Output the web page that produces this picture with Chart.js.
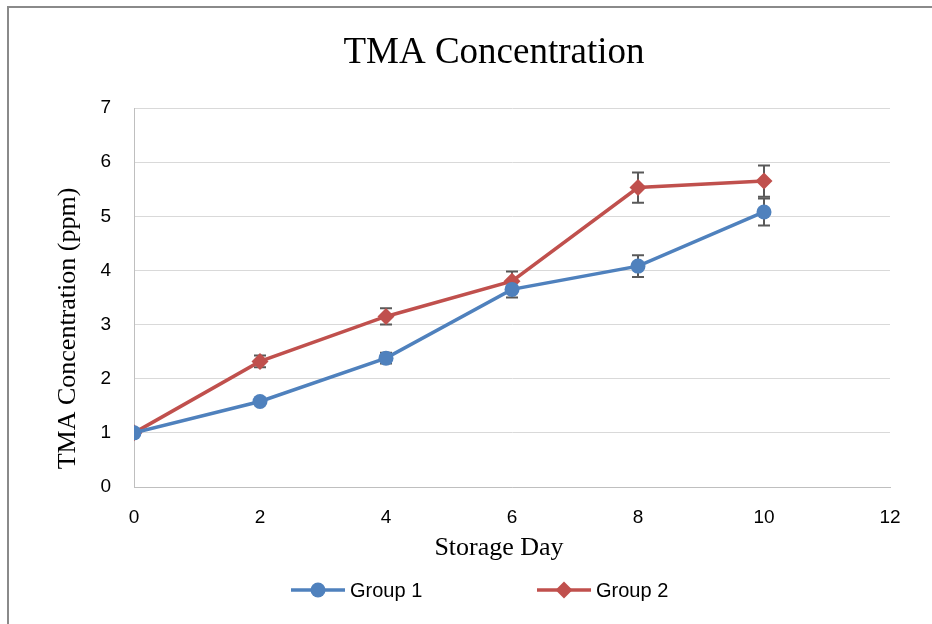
<!DOCTYPE html>
<html>
<head>
<meta charset="utf-8">
<script src="https://cdn.jsdelivr.net/npm/chart.js@4"></script>
<style>
  html, body { margin: 0; padding: 0; background: #fff; overflow: hidden; width: 932px; height: 624px; }
  #frame { position: absolute; left: 7px; top: 6px; width: 974px; height: 640px; border: 2px solid #8a8a8a; background: #fff; }
  #c { display: block; }
</style>
</head>
<body>
<div id="frame"><canvas id="c" width="974" height="640"></canvas></div>
<script>
const days = [0, 2, 4, 6, 8, 10];
const group1 = [1.0, 1.58, 2.38, 3.65, 4.08, 5.08];
const group2 = [1.0, 2.32, 3.15, 3.80, 5.53, 5.65];
const group1Err = [0, 0.04, 0.10, 0.15, 0.20, 0.25];
const group2Err = [0, 0.11, 0.15, 0.18, 0.28, 0.29];
const seriesNames = ['Group 1', 'Group 2'];
const chartTitle = 'TMA Concentration';
const xTitle = 'Storage Day';
const yTitle = 'TMA Concentration (ppm)';
const xTicks = [0, 2, 4, 6, 8, 10, 12];
const yTicks = [0, 1, 2, 3, 4, 5, 6, 7];

const BLUE = '#4F81BD', RED = '#C0504D';
const SANS = '"Liberation Sans", Arial, sans-serif';
const SERIF = '"Liberation Serif", "Times New Roman", serif';

const errorBars = {
  id: 'errorBars',
  beforeDatasetsDraw(chart) {
    const ctx = chart.ctx;
    const xs = chart.scales.x, ys = chart.scales.y;
    const errs = [group1Err, group2Err];
    ctx.save();
    ctx.strokeStyle = '#595959';
    ctx.lineWidth = 2;
    chart.data.datasets.forEach((ds, di) => {
      ds.data.forEach((p, i) => {
        const e = errs[di][i];
        if (!e) return;
        const x = xs.getPixelForValue(p.x);
        const yt = ys.getPixelForValue(p.y + e);
        const yb = ys.getPixelForValue(p.y - e);
        ctx.beginPath();
        ctx.moveTo(x, yt); ctx.lineTo(x, yb);
        ctx.moveTo(x - 6, yt); ctx.lineTo(x + 6, yt);
        ctx.moveTo(x - 6, yb); ctx.lineTo(x + 6, yb);
        ctx.stroke();
      });
    });
    ctx.restore();
  }
};

const extras = {
  id: 'extras',
  afterDraw(chart) {
    const ctx = chart.ctx;
    const a = chart.chartArea;
    ctx.save();
    ctx.fillStyle = '#000';
    // chart title
    ctx.font = '37px ' + SERIF;
    ctx.textAlign = 'center';
    ctx.textBaseline = 'alphabetic';
    ctx.fillText(chartTitle, chart.width / 2 - 2, a.top - 45);
    // x axis title
    ctx.font = '26px ' + SERIF;
    ctx.fillText(xTitle, (a.left + a.right) / 2 - 13, a.bottom + 68);
    // y axis title
    ctx.textBaseline = 'middle';
    ctx.save();
    ctx.translate(a.left - 66, (a.top + a.bottom) / 2 + 31);
    ctx.rotate(-Math.PI / 2);
    ctx.fillText(yTitle, 0, 0);
    ctx.restore();
    // legend
    const ly = a.bottom + 103;
    let lx = a.left + 157;
    ctx.font = '20px ' + SANS;
    ctx.textAlign = 'left';
    chart.data.datasets.forEach((ds, i) => {
      ctx.strokeStyle = ds.borderColor;
      ctx.lineWidth = 3.5;
      ctx.beginPath();
      ctx.moveTo(lx, ly); ctx.lineTo(lx + 54, ly);
      ctx.stroke();
      ctx.fillStyle = ds.backgroundColor;
      ctx.beginPath();
      if (ds.pointStyle === 'circle') {
        ctx.arc(lx + 27, ly, 7.5, 0, Math.PI * 2);
      } else {
        ctx.moveTo(lx + 27, ly - 8.5); ctx.lineTo(lx + 35.5, ly);
        ctx.lineTo(lx + 27, ly + 8.5); ctx.lineTo(lx + 18.5, ly);
        ctx.closePath();
      }
      ctx.fill();
      ctx.fillStyle = '#000';
      ctx.fillText(ds.label, lx + 59, ly + 1);
      lx += 246;
    });
    ctx.restore();
  }
};

new Chart(document.getElementById('c'), {
  type: 'line',
  data: {
    datasets: [
      {
        label: seriesNames[0],
        data: days.map((d, i) => ({ x: d, y: group1[i] })),
        borderColor: BLUE, backgroundColor: BLUE,
        borderWidth: 3.5, pointStyle: 'circle', pointRadius: 7.5,
        pointBorderWidth: 0, tension: 0
      },
      {
        label: seriesNames[1],
        data: days.map((d, i) => ({ x: d, y: group2[i] })),
        borderColor: RED, backgroundColor: RED,
        borderWidth: 3.5, pointStyle: 'rectRot', pointRadius: 8.5,
        pointBorderWidth: 0, tension: 0
      }
    ]
  },
  options: {
    responsive: false,
    animation: false,
    layout: { padding: { left: 46, right: 93, top: 100, bottom: 87 } },
    plugins: {
      legend: { display: false },
      tooltip: { enabled: false },
      title: { display: false }
    },
    scales: {
      x: {
        type: 'linear', min: 0, max: 12,
        afterFit(s) { s.height = 74; },
        afterBuildTicks(s) { s.ticks = xTicks.map(v => ({ value: v })); },
        grid: { display: false, drawTicks: false },
        border: { display: true, color: '#bfbfbf', width: 1 },
        ticks: { color: '#000', font: { family: SANS, size: 19 }, padding: 19, maxRotation: 0 }
      },
      y: {
        type: 'linear', min: 0, max: 7,
        afterFit(s) { s.width = 79; },
        afterBuildTicks(s) { s.ticks = yTicks.map(v => ({ value: v })); },
        grid: { color: '#d9d9d9', lineWidth: 1, drawTicks: false },
        border: { display: true, color: '#bfbfbf', width: 1 },
        ticks: { color: '#000', font: { family: SANS, size: 19 }, padding: 23 }
      }
    }
  },
  plugins: [errorBars, extras]
});
</script>
</body>
</html>
